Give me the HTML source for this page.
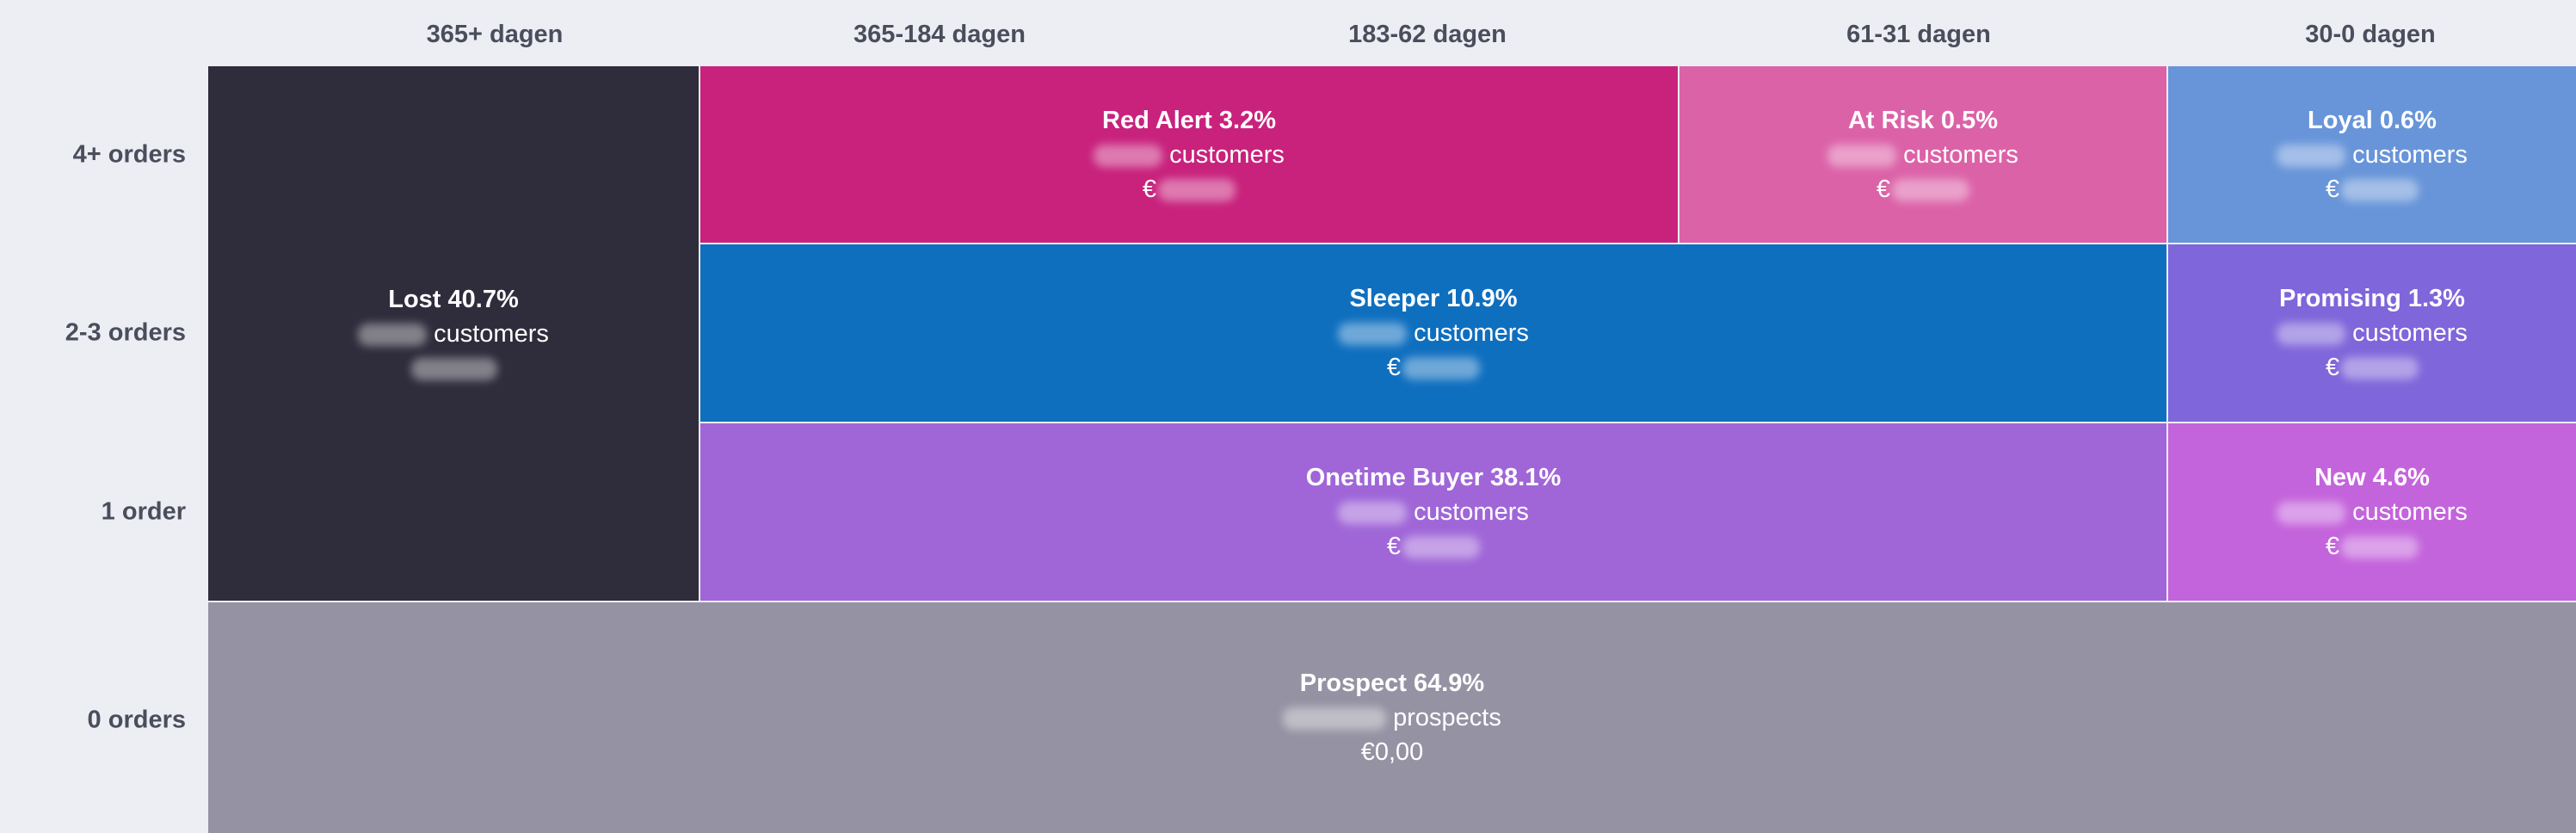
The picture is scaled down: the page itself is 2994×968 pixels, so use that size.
<!DOCTYPE html>
<html><head><meta charset="utf-8"><style>
*{margin:0;padding:0;box-sizing:border-box}
body{width:2994px;height:968px;background:#eceef3;position:relative;overflow:hidden;font-family:"Liberation Sans","DejaVu Sans",sans-serif}
.h{position:absolute;top:24px;font-size:29px;font-weight:bold;color:#4a4e5c;transform:translateX(-50%);white-space:nowrap}
.r{position:absolute;right:2778px;font-size:29px;font-weight:bold;color:#4a4e5c;transform:translateY(-50%);white-space:nowrap}
.c{position:absolute;display:flex;flex-direction:column;align-items:center;justify-content:center;color:#fff;font-size:29px;line-height:40px;text-align:center}
.c b{font-weight:bold}
.bl{display:inline-block;width:80px;height:26px;border-radius:12px;background:rgba(255,255,255,0.4);filter:blur(5px);vertical-align:middle;margin-right:8px}
.bm{display:inline-block;width:90px;height:26px;border-radius:12px;background:rgba(255,255,255,0.4);filter:blur(5px);vertical-align:middle;margin-left:2px}
</style></head><body>
<div class="h" style="left:575px">365+ dagen</div>
<div class="h" style="left:1092px">365-184 dagen</div>
<div class="h" style="left:1659px">183-62 dagen</div>
<div class="h" style="left:2230px">61-31 dagen</div>
<div class="h" style="left:2755px">30-0 dagen</div>
<div class="r" style="top:180px">4+ orders</div>
<div class="r" style="top:387px">2-3 orders</div>
<div class="r" style="top:595px">1 order</div>
<div class="r" style="top:837px">0 orders</div>

<div class="c" style="left:242px;top:77px;width:570px;height:621px;background:#2f2d3c"><b>Lost 40.7%</b><div><span class="bl"></span>customers</div><div><span class="bm" style="width:100px"></span></div></div>
<div class="c" style="left:814px;top:77px;width:1136px;height:205px;background:#c8227c"><b>Red Alert 3.2%</b><div><span class="bl"></span>customers</div><div>€<span class="bm"></span></div></div>
<div class="c" style="left:1952px;top:77px;width:566px;height:205px;background:#dc62a8"><b>At Risk 0.5%</b><div><span class="bl"></span>customers</div><div>€<span class="bm"></span></div></div>
<div class="c" style="left:2520px;top:77px;width:474px;height:205px;background:#6895d9"><b>Loyal 0.6%</b><div><span class="bl"></span>customers</div><div>€<span class="bm"></span></div></div>
<div class="c" style="left:814px;top:284px;width:1704px;height:206px;background:#0f6fbf"><b>Sleeper 10.9%</b><div><span class="bl"></span>customers</div><div>€<span class="bm"></span></div></div>
<div class="c" style="left:2520px;top:284px;width:474px;height:206px;background:#7f66da"><b>Promising 1.3%</b><div><span class="bl"></span>customers</div><div>€<span class="bm"></span></div></div>
<div class="c" style="left:814px;top:492px;width:1704px;height:206px;background:#a066d8"><b>Onetime Buyer 38.1%</b><div><span class="bl"></span>customers</div><div>€<span class="bm"></span></div></div>
<div class="c" style="left:2520px;top:492px;width:474px;height:206px;background:#c464dc"><b>New 4.6%</b><div><span class="bl"></span>customers</div><div>€<span class="bm"></span></div></div>
<div class="c" style="left:242px;top:700px;width:2752px;height:268px;background:#9593a3"><b>Prospect 64.9%</b><div><span class="bl" style="width:120px"></span>prospects</div><div>€0,00</div></div>
</body></html>
